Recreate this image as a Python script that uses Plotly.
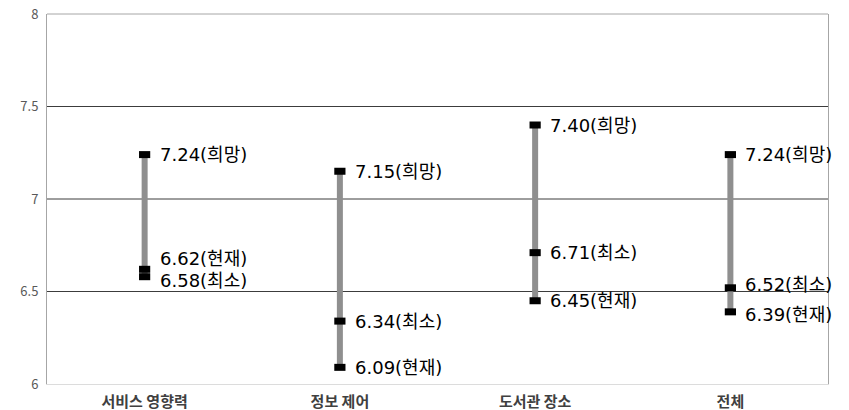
import plotly.graph_objects as go

# Scores by area: desired level, current level, minimum acceptable level
categories = ["서비스 영향력", "정보 제어", "도서관 장소", "전체"]
hope = [7.24, 7.15, 7.40, 7.24]
current = [6.62, 6.09, 6.45, 6.39]
minimum = [6.58, 6.34, 6.71, 6.52]

y_ticks = [6, 6.5, 7, 7.5, 8]
grid_vals = [6.5, 7, 7.5]

FONT = "Noto Sans CJK KR"
LABEL_FONT = "DejaVu Sans, Noto Sans CJK KR"

fig = go.Figure()

# Range bar from the lowest to the highest score in each area
seg_x, seg_y = [], []
for c, h, cu, mi in zip(categories, hope, current, minimum):
    vals = [h, cu, mi]
    seg_x += [c, c, None]
    seg_y += [min(vals), max(vals), None]
fig.add_trace(go.Scatter(
    x=seg_x, y=seg_y, mode="lines",
    line=dict(color="#8f8f8f", width=6),
    hoverinfo="skip", showlegend=False,
))

# Black rectangular markers for each score
for series in (hope, current, minimum):
    fig.add_trace(go.Scatter(
        x=categories, y=series, mode="markers",
        marker=dict(symbol="line-ew", size=8,
                    line=dict(color="black", width=7)),
        showlegend=False,
    ))

# Value labels; labels that sit close together are nudged apart (pixels)
nudge = {(0, "현재"): 11, (0, "최소"): -4, (3, "최소"): 3, (3, "현재"): -3}
for name, series in (("희망", hope), ("현재", current), ("최소", minimum)):
    for i, (c, v) in enumerate(zip(categories, series)):
        fig.add_annotation(
            x=c, y=v, text=f"{v:.2f}({name})",
            showarrow=False, xanchor="left", yanchor="middle",
            xshift=13, yshift=nudge.get((i, name), 0),
            font=dict(family=LABEL_FONT, size=18, color="black"),
        )

# Horizontal gridlines
for g in grid_vals:
    fig.add_shape(type="line", xref="paper", x0=0, x1=1, y0=g, y1=g,
                  line=dict(color="#3c3c3c", width=1), layer="below")
# Top border
fig.add_shape(type="line", xref="paper", yref="paper", x0=0, x1=1, y0=1, y1=1,
              line=dict(color="#a6a6a6", width=1), layer="below")

fig.update_layout(
    width=849, height=410,
    margin=dict(l=47, r=21, t=14, b=26),
    plot_bgcolor="white", paper_bgcolor="white",
    font=dict(family=FONT),
    xaxis=dict(
        type="category", range=[-0.5, 3.5], showgrid=False, automargin=False,
        showline=True, linecolor="#dcdcdc", linewidth=1,
        ticks="outside", ticklen=4, tickcolor="rgba(0,0,0,0)",
        tickfont=dict(family=FONT, size=15, color="#404040", weight="bold"),
    ),
    yaxis=dict(
        range=[6, 8], tickvals=y_ticks, ticktext=[f"{t:g}" for t in y_ticks],
        showgrid=False, zeroline=False, automargin=False,
        showline=True, mirror=True, linecolor="#a6a6a6", linewidth=1,
        ticks="outside", ticklen=5, tickcolor="rgba(0,0,0,0)",
        tickfont=dict(family=FONT, size=13, color="#595959"),
    ),
)

fig.write_html("out.html")
